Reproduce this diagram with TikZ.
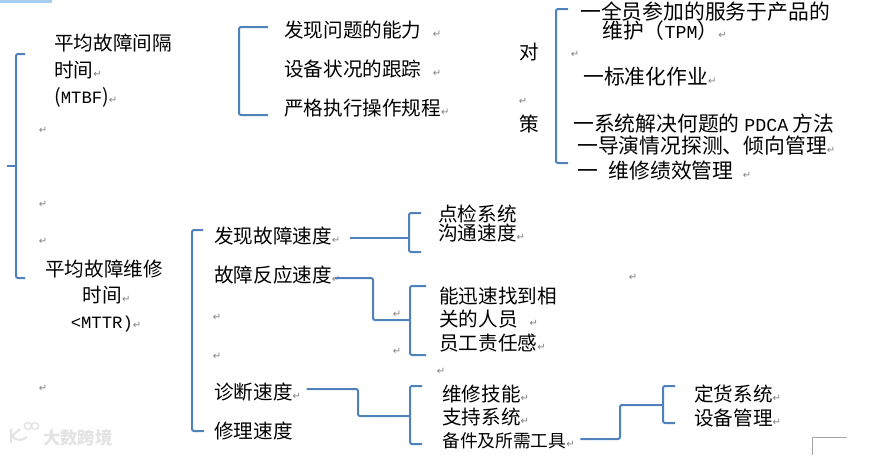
\documentclass[tikz,border=0pt]{standalone}
\usepackage{fontspec}
\setmainfont{Noto Sans CJK SC}
\setmonofont[Scale=0.88]{Liberation Mono}
\newfontfamily\retfont{DejaVu Sans}
\usepackage{xcolor}
\usepackage{tikz}
\usetikzlibrary{arrows.meta,positioning,calc}
\definecolor{BraceBlue}{HTML}{4F81BD}
\definecolor{TabBlue}{HTML}{A9CDEE}
\newcommand{\retsign}{{\retfont\fontsize{7.5pt}{8pt}\selectfont\textcolor{gray}{↵}}}
\tikzset{
  bracket/.style={draw=BraceBlue, line width=1.5pt, rounded corners=1.5pt},
  item/.style={inner sep=0pt, anchor=west, text height=1.2em, text depth=0.15em,
    font=\fontsize{14.7pt}{17pt}\selectfont},
  itemwide/.style={item, font=\fontsize{15.6pt}{17pt}\selectfont},
  itemtight/.style={item, font=\fontsize{13.3pt}{17pt}\selectfont},
  block/.style={inner sep=0pt, font=\fontsize{14.7pt}{19.8pt}\selectfont},
  retnode/.style={inner sep=0pt, font=\retfont}
}

\begin{document}
\begin{tikzpicture}[x=0.75pt, y=-0.75pt]
\useasboundingbox (0,0) rectangle (871,455);
\fill[TabBlue] (0,0) rectangle (52,3);

% left column
\node[block, anchor=west, align=left] at (54,71) (mtbf) {平均故障间隔\\时间\retsign\\(\texttt{MTBF})\retsign};
\node[block, align=center] at (104,296) (mttr) {平均故障维修\\\hspace*{4pt}时间\retsign\\\hspace*{3pt}\texttt{<MTTR)}\retsign};
\node[retnode] at (43,130) (retA) {\retsign};
\node[retnode] at (43,204) (retB) {\retsign};
\node[retnode] at (43,241) (retC) {\retsign};
\node[retnode] at (43,388) (retD) {\retsign};

% upper middle
\node[item] at (284,30) (ability) {发现问题的能力\hspace{8.5pt}\retsign};
\node[item] at (284,69) (track) {设备状况的跟踪\hspace{8.5pt}\retsign};
\node[item] at (284,108) (rules) {严格执行操作规程\retsign};
\node[item] at (519,52) (dui) {对};
\node[retnode] at (523,101) (retE) {\retsign};
\node[item] at (519,124) (ce) {策};

% right column
\node[itemwide] at (580,12) (tpmA) {一全员参加的服务于产品的};
\node[itemwide] at (602,31) (tpmB) {维护（\texttt{TPM}）\retsign};
\node[retnode] at (575,54) (retF) {\retsign};
\node[itemwide] at (583,77) (std) {一标准化作业\retsign};
\node[itemwide] at (573,124) (pdca) {一系统解决何题的 \texttt{PDCA} 方法};
\node[itemwide] at (577,146) (guide) {一导演情况探测、倾向管理\retsign};
\node[itemwide] at (577,171) (perf) {一\hspace{8pt}维修绩效管理\hspace{7pt}\retsign};

% lower middle
\node[item] at (214,236) (find) {发现故障速度\retsign};
\node[item] at (214,275) (react) {故障反应速度\retsign};
\node[retnode] at (217,317) (retG) {\retsign};
\node[retnode] at (217,356) (retH) {\retsign};
\node[item] at (214,392) (diag) {诊断速度\retsign};
\node[item] at (214,431) (fix) {修理速度};
\node[retnode] at (397,314) (retI) {\retsign};
\node[retnode] at (397,351) (retJ) {\retsign};

\node[item] at (438,214) (check) {点检系统};
\node[item] at (438,233) (comm) {沟通速度\retsign};
\node[item] at (439,296) (people) {能迅速找到相};
\node[item] at (439,319) (peopleB) {关的人员\hspace{9pt}\retsign};
\node[item] at (439,343) (duty) {员工责任感\retsign};
\node[retnode] at (441,371) (retK) {\retsign};
\node[retnode] at (633,277) (retL) {\retsign};
\node[item] at (442,394) (skill) {维修技能\retsign};
\node[item] at (442,417) (support) {支持系统\retsign};
\node[itemtight] at (442,440) (tools) {备件及所需工具\retsign};
\node[item] at (694,394) (order) {定货系统\retsign};
\node[item] at (694,418) (equip) {设备管理\retsign};

% hubs where a connector meets its bracket
\coordinate (hubA) at (409,238);
\coordinate (hubB) at (410,320);
\coordinate (hubC) at (410,416);
\coordinate (hubD) at (663,405);

% brackets
\draw[bracket] (25,54) -| (16,278) -- (25,278);
\draw[bracket] (7,166) -- (16,166);
\draw[bracket] (268,27) -| (239,115) -- (268,115);
\draw[bracket] (568,9) -| (556,163) -- (568,163);
\draw[bracket] (203,230) -| (192,431) -- (204,431);
\draw[bracket] (421,213) -| (hubA) |- (421,252);
\draw[bracket] (426,286) -| (hubB) |- (426,355);
\draw[bracket] (422,386) -| (hubC) |- (422,444);
\draw[bracket] (675,386) -| (hubD) |- (675,423);

% connectors
\draw[bracket, shorten <=7pt] (find.east |- hubA) -- (hubA);
\draw[bracket, shorten <=-4pt] (react.east |- 0,278) -| (373,320) -- (hubB);
\draw[bracket, shorten <=4pt] (diag.east |- 0,389) -| (358,416) -- (hubC);
\draw[bracket, shorten <=4pt] (tools.east |- 0,439) -| (620,405) -- (hubD);

% page corner and stamp
\draw[gray!70, line width=0.75pt] (847,437) -| (812,455);
\node[inner sep=0pt, anchor=west, text=gray!22, font=\fontsize{13pt}{14pt}\selectfont] at (43,438) (stamp) {\textbf{大数跨境}};
\draw[gray!22, line width=1.6pt] (11,429) -- (11,443) (20,429) -- (12,436) .. controls (16,440) and (20,442) .. (27,437);
\draw[gray!22, line width=1.1pt] (28,426) circle (3.5) (35,426) circle (3.5);
\end{tikzpicture}
\end{document}
